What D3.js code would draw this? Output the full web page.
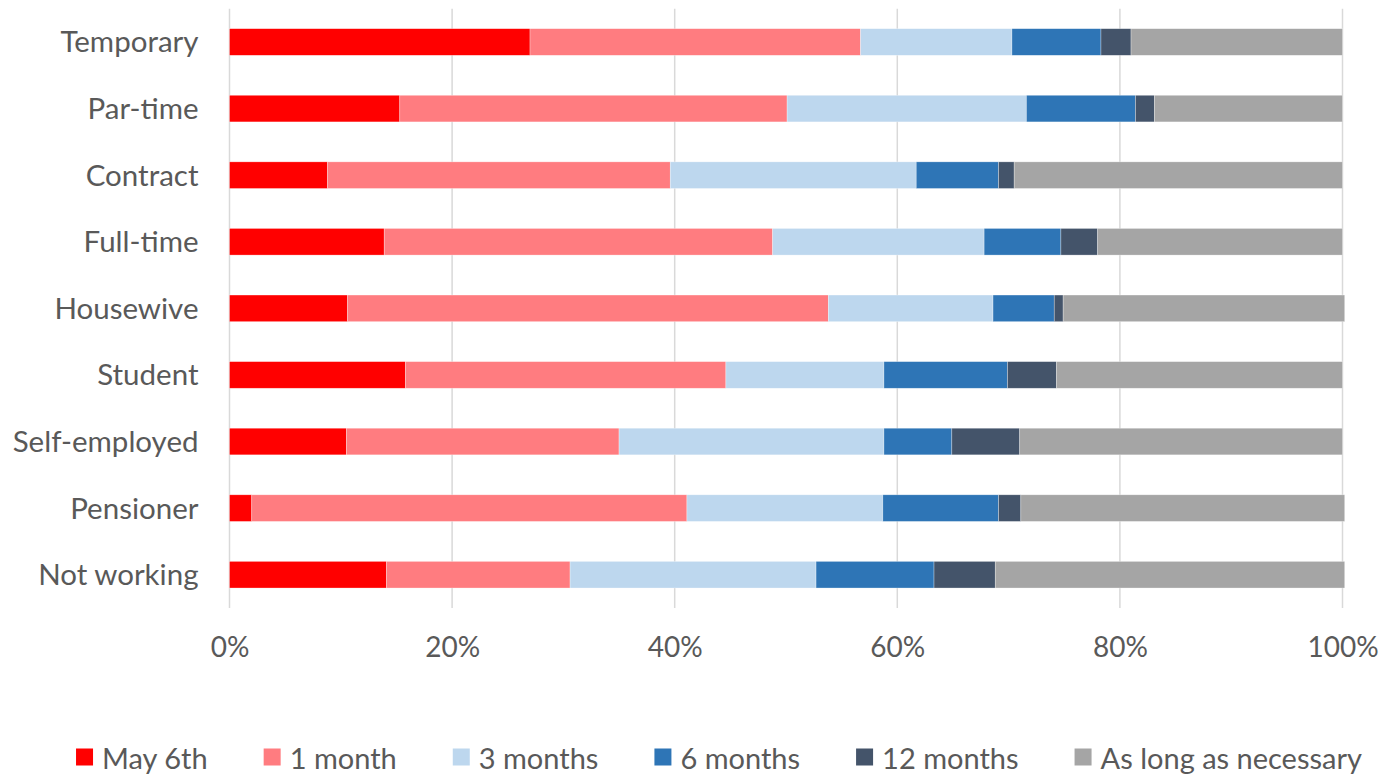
<!DOCTYPE html>
<html><head><meta charset="utf-8">
<script src="https://cdn.jsdelivr.net/npm/d3@7"></script>
<style>html,body{margin:0;padding:0;background:#fff;}svg{display:block;}</style>
</head><body>
<svg id="chart" width="1384" height="774"></svg>
<script>
const categories = ["Temporary","Par-time","Contract","Full-time","Housewive","Student","Self-employed","Pensioner","Not working"];
const seriesNames = ["May 6th","1 month","3 months","6 months","12 months","As long as necessary"];
const seriesColors = ["#FF0000","#FF7C80","#BDD7EE","#2E75B6","#44546A","#A5A5A5"];
const may6th    = [27.0, 15.3,  8.8, 13.9, 10.6, 15.8, 10.5,  2.0, 14.1];
const oneMonth  = [29.7, 34.8, 30.8, 34.9, 43.2, 28.8, 24.5, 39.1, 16.5];
const threeMon  = [13.6, 21.5, 22.1, 19.0, 14.8, 14.2, 23.8, 17.6, 22.1];
const sixMon    = [ 8.0,  9.8,  7.4,  6.9,  5.5, 11.1,  6.1, 10.4, 10.6];
const twelveMon = [ 2.7,  1.7,  1.4,  3.3,  0.8,  4.4,  6.1,  2.0,  5.5];
const asLong    = [19.0, 16.9, 29.5, 22.0, 25.3, 25.7, 29.0, 29.1, 31.4];
const tickValues = [0,20,40,60,80,100];

const series = [may6th, oneMonth, threeMon, sixMon, twelveMon, asLong];
const rows = categories.map((c,i)=>{const r={cat:c}; seriesNames.forEach((s,j)=>r[s]=series[j][i]); return r;});
const stacked = d3.stack().keys(seriesNames)(rows);

const svg = d3.select("#chart");
const FONT = "Lato, 'Open Sans', sans-serif";
const TXT = "#595959";
const margin = {left:229.5, right:1342.5, top:8.7, bottom:608};
const x = d3.scaleLinear().domain([0,100]).range([margin.left, margin.right]);
const y = d3.scaleBand().domain(categories).range([margin.top, margin.bottom]).paddingInner(0.6).paddingOuter(0.3);

// gridlines
svg.append("g").selectAll("line").data(tickValues).join("line")
  .attr("x1",d=>x(d)).attr("x2",d=>x(d)).attr("y1",margin.top).attr("y2",margin.bottom)
  .attr("stroke","#D9D9D9").attr("stroke-width",1.5);

// bars
svg.append("g").selectAll("g").data(stacked).join("g")
  .attr("fill",(d,i)=>seriesColors[i])
  .selectAll("rect").data(d=>d).join("rect")
  .attr("x",d=>x(d[0])).attr("width",d=>x(d[1])-x(d[0]))
  .attr("y",d=>y(d.data.cat)).attr("height",y.bandwidth())
  .attr("stroke","#fff").attr("stroke-opacity",0.5).attr("stroke-width",0.6);

// y labels
svg.append("g").selectAll("text").data(categories).join("text")
  .attr("x",margin.left-31).attr("y",d=>y(d)+y.bandwidth()/2-1)
  .attr("text-anchor","end").attr("dominant-baseline","central")
  .attr("font-family",FONT).attr("font-size",29.5).attr("fill",TXT).text(d=>d);

// x axis labels
const xAxis = d3.axisBottom(x).tickValues(tickValues).tickFormat(d=>d+"%").tickSize(0).tickPadding(0);
const gx = svg.append("g").attr("transform",`translate(0,${margin.bottom+29})`).call(xAxis);
gx.select(".domain").remove();
gx.selectAll("text").attr("font-family",FONT).attr("font-size",28).attr("fill",TXT).attr("dy","0.7em").attr("y",0);

// legend
const lg = svg.append("g");
const items = lg.selectAll("g").data(seriesNames).join("g");
items.append("rect").attr("width",17).attr("height",17).attr("y",-8.5).attr("fill",(d,i)=>seriesColors[i]);
items.append("text").attr("x",26).attr("dominant-baseline","central")
  .attr("font-family",FONT).attr("font-size",29).attr("fill",TXT).text(d=>d);
let pos=0; const offs=[];
items.each(function(){const w=d3.select(this).select("text").node().getComputedTextLength(); offs.push(pos); pos+=26+w+56;});
const total = pos-56;
const startX = 719 - total/2;
items.attr("transform",(d,i)=>`translate(${startX+offs[i]},757)`);
</script>
</body></html>
